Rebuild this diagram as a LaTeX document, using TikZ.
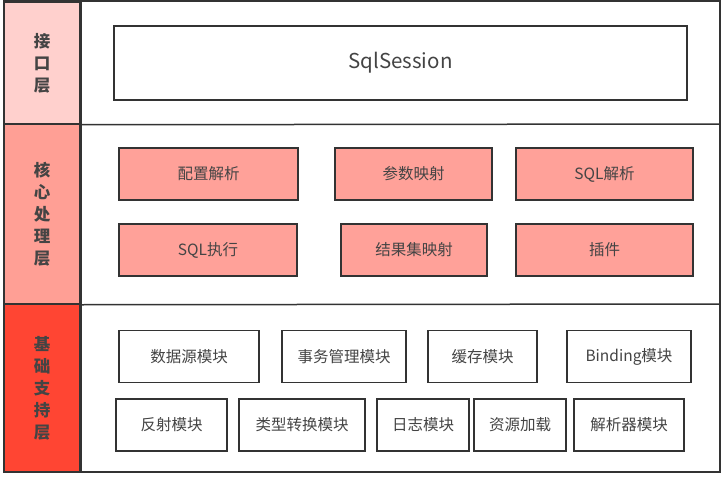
\documentclass[tikz,border=0pt]{standalone}
\usepackage{fontspec}
\setmainfont{Noto Sans CJK SC}
\definecolor{edge}{HTML}{333333}
\definecolor{ink}{HTML}{444444}
\definecolor{ifcfill}{HTML}{FFD0CD}
\definecolor{corefill}{HTML}{FF9F95}
\definecolor{basefill}{HTML}{FF4533}
\definecolor{modfill}{HTML}{FFA199}

\begin{document}
\begin{tikzpicture}[x=1pt,y=-1pt,
    layer/.style={rectangle,draw=edge,line width=1.5pt,minimum width=76pt,align=center,
        text=ink,font=\fontsize{16.5}{22}\selectfont\bfseries,inner sep=0pt},
    mod/.style={rectangle,draw=edge,line width=1.5pt,fill=white,text=ink,
        font=\fontsize{15.5}{18}\selectfont,inner sep=0pt},
    core/.style={mod,fill=modfill,minimum height=52pt},
    base/.style={mod,minimum height=52pt}]
        \useasboundingbox (0,0) rectangle (727,476);
        % layers
        \node[layer,fill=ifcfill,minimum height=122pt] (ifc) at (42,63) {接\\口\\层};
        \node[layer,fill=corefill,minimum height=180pt] (core) at (42,214) {核\\心\\处\\理\\层};
        \node[layer,fill=basefill,minimum height=168pt] (base) at (42,388) {基\\础\\支\\持\\层};
        \draw[edge,line width=1.5pt] (ifc.north west) rectangle (720,472);
        \draw[edge,line width=1.5pt] (ifc.south east) -- (720,124);
        \draw[edge,line width=1.5pt] (core.south east) -- (720,304);
        \draw[edge,line width=3pt] (ifc.north east) -- (base.south east);

        % interface
        \node[mod,minimum width=573pt,minimum height=74pt,font=\fontsize{20.5}{22}\selectfont] (sess) at (400.5,63) {SqlSession};

        % core
        \node[core,minimum width=179pt] (cfg) at (208.5,174) {配置解析};
        \node[core,minimum width=157pt] (param) at (413.5,174) {参数映射};
        \node[core,minimum width=177pt] (sqlp) at (604.5,174) {SQL解析};
        \node[core,minimum width=178pt] (exec) at (208,250) {SQL执行};
        \node[core,minimum width=146pt] (result) at (414,250) {结果集映射};
        \node[core,minimum width=177pt] (plugin) at (604.5,250) {插件};

        % base
        \node[base,minimum width=140pt] (ds) at (189,356.5) {数据源模块};
        \node[base,minimum width=124pt] (tx) at (344,356.5) {事务管理模块};
        \node[base,minimum width=109pt] (cache) at (482.5,356.5) {缓存模块};
        \node[base,minimum width=124pt] (bind) at (629,356.5) {Binding模块};
        \node[base,minimum width=111pt] (refl) at (171.5,425) {反射模块};
        \node[base,minimum width=126pt] (conv) at (302,425) {类型转换模块};
        \node[base,minimum width=92pt] (log) at (423,425) {日志模块};
        \node[base,minimum width=92pt] (res) at (520,425) {资源加载};
        \node[base,minimum width=110pt] (parse) at (629,425) {解析器模块};
\end{tikzpicture}
\end{document}
